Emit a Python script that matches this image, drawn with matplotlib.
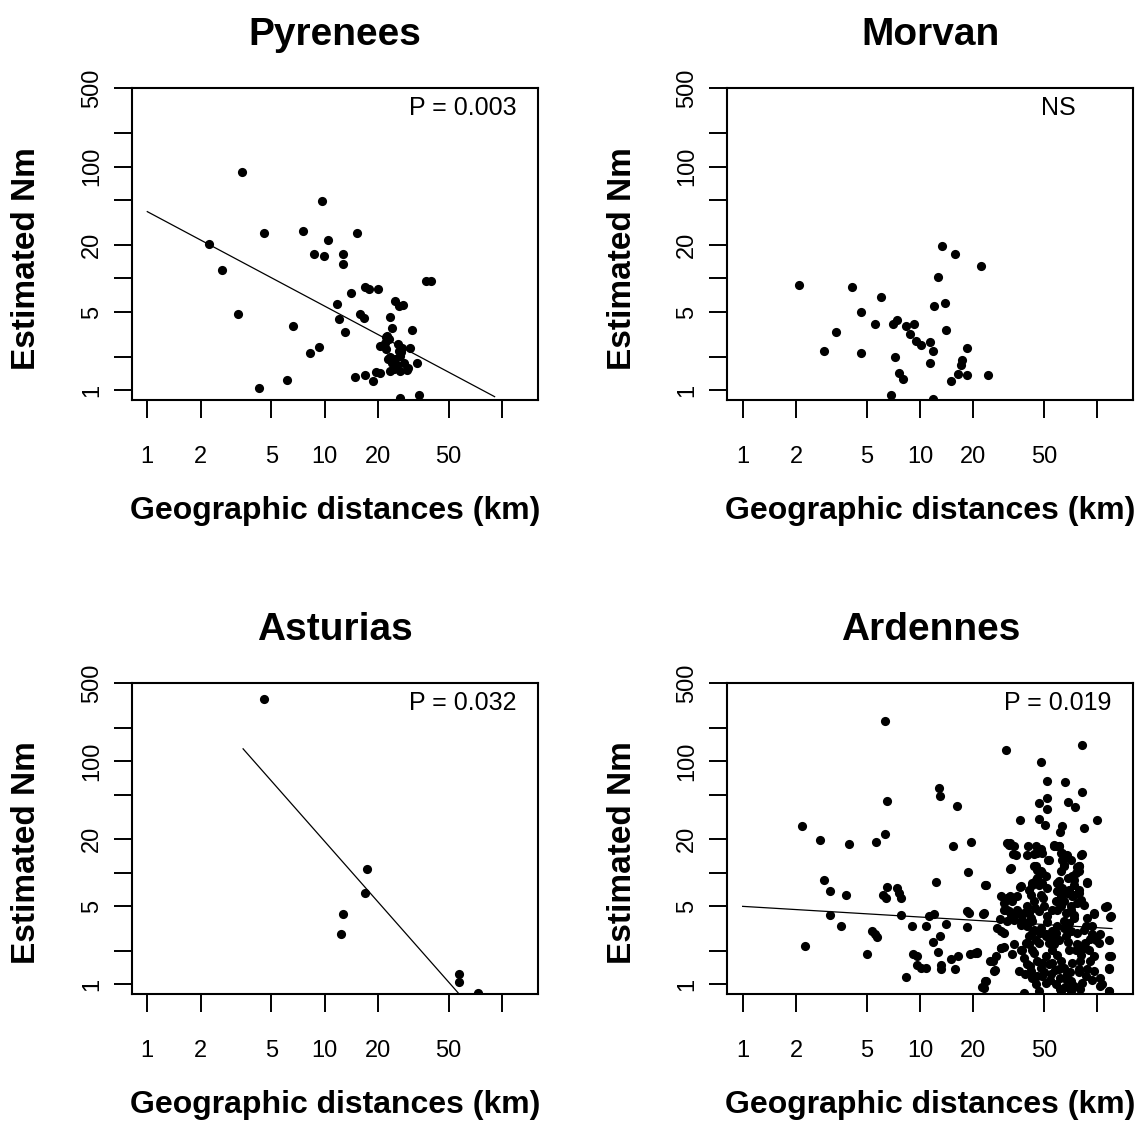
import numpy as np
import matplotlib
matplotlib.use("Agg")
import matplotlib.pyplot as plt
from matplotlib.ticker import FixedLocator, FixedFormatter, NullLocator

plt.rcParams['font.family'] = ['Liberation Sans', 'DejaVu Sans']

# values: geographic distance (km) and estimated Nm
pyr_dist = [3.43, 9.68, 4.58, 7.6, 10.5, 15.2, 2.24, 8.73, 9.98, 12.7, 12.7, 2.63, 37.5, 39.8,
            16.8, 17.8, 19.9, 14.1, 11.7, 25.1, 26.2, 27.7, 3.26, 15.9, 16.6, 12.0, 23.5, 6.65,
            24.0, 13.0, 31.3, 22.3, 20.5, 9.35, 8.25, 22.3, 26.2, 27.3, 30.4, 26.7, 22.7, 24.1,
            25.6, 33.2, 23.3, 26.5, 29.2, 19.4, 20.5, 14.9, 17.0, 18.8, 6.17, 4.26, 26.6, 33.9,
            22.5, 23.0, 22.0, 27.0, 26.0, 23.5, 25.0, 28.0, 29.5, 24.5]
pyr_nm = [90.2, 49.6, 25.3, 26.4, 22.2, 25.3, 20.3, 16.5, 16.0, 16.5, 13.4, 11.9, 9.53, 9.53,
          8.42, 8.08, 8.05, 7.44, 5.97, 6.31, 5.69, 5.78, 4.86, 4.86, 4.47, 4.32, 4.54, 3.77,
          3.64, 3.33, 3.47, 3.0, 2.48, 2.46, 2.16, 2.33, 2.25, 2.41, 2.38, 2.03, 1.92, 1.77,
          1.67, 1.77, 1.49, 1.49, 1.51, 1.47, 1.42, 1.32, 1.37, 1.20, 1.25, 1.06, 0.86, 0.90,
          3.07, 2.86, 2.67, 2.2, 2.6, 2.0, 1.9, 1.75, 1.6, 1.55]

mor_dist = [2.08, 4.15, 6.02, 13.4, 15.7, 22.2, 12.7, 4.64, 12.0, 13.8, 3.36, 5.57, 7.06, 7.47,
            8.32, 9.27, 8.77, 9.56, 10.2, 11.4, 11.8, 14.1, 2.87, 4.64, 7.28, 11.4, 18.4, 17.3,
            17.0, 16.5, 18.4, 24.1, 7.63, 8.07, 14.9, 6.88, 11.8]
mor_nm = [8.78, 8.37, 6.76, 19.6, 16.5, 12.8, 10.35, 5.03, 5.73, 6.01, 3.33, 3.93, 3.95, 4.26,
          3.77, 3.95, 3.17, 2.77, 2.55, 2.71, 2.25, 3.47, 2.25, 2.16, 2.0, 1.76, 2.38, 1.86,
          1.69, 1.41, 1.36, 1.37, 1.44, 1.26, 1.2, 0.90, 0.83]

ast_dist = [4.58, 17.4, 17.0, 12.7, 12.3, 57.5, 57.5, 73.3]
ast_nm = [360, 10.9, 6.58, 4.30, 2.83, 1.23, 1.06, 0.83]

ard_dist = [2.15, 2.25, 2.72, 2.87, 3.1, 3.12, 3.57, 4.0, 3.83, 5.0, 5.68, 6.33, 6.33, 6.56, 6.56,
            6.15, 6.4, 5.35, 5.6, 5.7, 7.4, 7.6, 7.8, 7.8, 8.36, 9.0, 9.1, 9.6, 10.2, 10.8, 10.8,
            11.3, 12.0, 12.3, 11.8, 12.6, 12.8, 13.0, 13.1, 13.1, 14.1, 14.9, 15.8, 16.5, 15.4,
            16.1, 18.5, 18.4, 18.7, 19.5, 19.1, 20.4, 22.8, 23.3, 22.5, 23.3, 25.9, 26.5, 28.8,
            30.6, 36.9, 31.0, 32.3, 33.4, 32.3, 36.9, 31.5, 32.3, 30.6, 32.0, 28.3, 28.6, 29.8,
            33.1, 36.0, 38.6, 41.1, 40.8, 9.6, 12.9, 18.9, 21.1,
            48, 52, 52, 52, 47, 47, 51, 62, 63.5, 66, 68.5, 75, 82, 82, 84, 100, 82, 44, 48, 49,
            52.7, 57, 61, 67.5, 77, 79, 72, 68.5, 87, 79, 110, 118, 116, 117, 116, 107, 95.6,
            95.6, 91, 85, 80, 79, 87, 94, 80, 62,
            31.8, 33.9, 45.0, 48.0, 57.0, 60.8, 63.5, 64.9, 34.7, 40.3, 45.9, 53.4, 64.9, 70.8,
            80.6, 32.5, 45.0, 48.0, 45.9, 43.0, 49.0, 52.3, 48.0, 62.1, 60.8, 63.5, 67.8, 73.9,
            80.6, 84.1, 73.9, 78.9, 87.9, 23.5, 37.0, 31.1, 35.4, 33.2, 42.1, 40.3, 50.1, 58.2,
            59.5, 23.0, 29.8, 32.5, 33.9, 31.1, 114, 119, 95.8, 87.9, 73.9, 69.2, 27.3, 29.8,
            37.0, 40.3, 43.0, 44.0, 48.0, 51.2, 55.8, 59.5, 64.9, 70.8, 77.3, 84.1, 93.7, 103,
            28.5, 26.8, 25.0, 26.2, 23.5, 23.0, 33.9, 21.1,
            37.0, 38.6, 40.3, 42.1, 43.0, 45.0, 47.0, 41.1, 44.0, 45.9, 48.0, 49.0, 51.2,
            57.0, 59.5, 62.1, 64.9, 67.8, 70.8, 73.9, 70.8, 77.3, 80.6, 84.1, 91.6, 95.8, 103,
            103, 116, 116, 119, 116, 54.6, 58.2, 62.1, 53.4,
            44.0, 47.0, 52.3, 55.8, 62.1, 66.3, 70.8, 73.9, 38.6, 35.4, 42.1,
            44.0, 45.9, 49.0, 51.2, 45.0, 43.0, 41.2, 46.9, 59.5, 60.8, 62.1, 64.9, 69.2, 72.3,
            77.3, 78.9, 58.2, 62.1, 63.5, 64.9, 78.9, 75.5, 73.9, 28.5, 29.8, 31.1, 33.9, 36.2,
            37.8, 40.3, 43.0, 45.0, 41.2, 39.5, 37.8, 43.0, 46.9, 51.2, 53.4, 55.8, 51.2, 49.0,
            55.8, 60.8, 66.3, 72.3, 82.3, 86.0, 78.9, 72.3, 69.2, 75.5, 89.8, 97.9, 102, 93.7,
            86.0, 66.3, 60.8, 58.2,
            39.0, 42.0, 46.0, 50.0, 54.0, 57.5, 61.5, 66.0, 70.0, 56.0, 52.0, 47.5, 44.5, 65.0,
            68.0, 71.5, 59.0, 49.5]
ard_nm = [26.5, 2.2, 19.7, 8.6, 6.9, 4.15, 3.36, 18.2, 6.3, 1.86, 18.8, 22.4, 228, 43.8, 7.5,
          6.3, 5.9, 3.0, 2.8, 2.66, 7.3, 6.6, 5.9, 4.15, 1.16, 3.36, 1.86, 1.5, 1.4, 1.4, 3.36,
          4.1, 4.25, 8.2, 2.4, 1.95, 57, 49, 1.5, 1.38, 3.5, 1.7, 1.38, 1.79, 17.4,
          40, 3.3, 4.5, 10.1, 18.8, 1.86, 1.92, 4.25, 7.8, 0.95, 1.07, 1.62, 1.34, 2.1,
          125, 30, 18.3, 18.3, 14.8, 10.9, 7.46, 5.93, 6.2, 4.67, 4.5, 3.83, 3.03, 2.15,
          1.86, 1.32, 0.84, 4.36, 17.4, 1.79, 2.7, 4.36, 1.94,
          99, 67, 46.5, 37, 42.5, 30.2, 26.8, 23, 26, 65, 42.8, 39, 141, 52.5, 25.3, 30, 14.8,
          14.8, 16.3, 15, 12.9, 17.4, 17.2, 14.5, 11.2, 10.3, 9.4, 8.95, 8.3, 7.0, 4.94, 4.0,
          1.79, 1.38, 0.87, 1.0, 4.3, 1.81, 2.56, 2.35, 1.62, 1.29, 1.36, 1.09, 0.9, 0.9,
          17.8, 17.2, 17.2, 16.0, 17.8, 17.2, 15.0, 13.5, 14.5, 14.5, 15.0, 13.1, 11.8, 13.1,
          14.5, 11.0, 11.4, 10.3, 8.96, 7.81, 8.09, 7.30, 6.36, 10.3, 8.37, 7.30, 6.58, 6.36,
          5.74, 5.18, 7.81, 11.4, 8.09, 7.81, 7.55, 5.94, 6.15, 5.55, 6.36, 5.0, 5.0, 5.55,
          4.67, 4.36, 4.67, 4.22, 3.80, 3.68, 5.0, 4.07, 4.36, 3.94, 3.94, 3.55, 3.21, 2.89,
          3.43, 3.55, 3.68, 3.10, 3.21, 2.80, 3.0, 3.32, 3.21, 3.0, 2.89, 3.10, 2.80, 2.80,
          2.13, 1.79, 1.62, 1.32, 1.07, 0.93, 2.28, 1.92,
          2.05, 1.73, 1.51, 1.32, 1.15, 1.0, 0.87, 2.28, 1.92, 1.62, 1.41, 1.19, 1.03,
          2.28, 1.85, 1.62, 1.41, 1.23, 1.07, 0.97, 0.87, 2.28, 1.85, 2.13, 1.62, 1.32, 1.15,
          0.97, 0.87, 2.52, 1.79, 1.41, 1.23, 1.0, 0.87, 1.51,
          5.55, 4.51, 4.07, 4.67, 5.0, 4.36, 5.0, 4.22, 4.36, 4.67, 3.94,
          11.4, 10.6, 9.93, 9.27, 8.66, 8.09, 7.05, 7.81, 8.09, 7.05, 6.15, 5.55, 7.05, 6.15,
          5.36, 6.58, 17.2, 15.0, 13.1, 11.4, 11.4, 9.93, 8.66, 6.15, 5.36, 4.67, 4.07, 4.36,
          3.80, 3.32, 2.89, 2.52, 2.70, 2.35, 2.05, 2.05, 2.35, 2.70, 2.35, 2.05, 1.79, 1.56,
          1.56, 1.36, 1.11, 0.97, 1.03, 1.19, 1.36, 1.56, 2.05, 2.05, 2.05, 2.52, 2.35, 3.32,
          3.32, 2.70, 2.52, 2.89,
          1.25, 1.45, 1.2, 1.3, 1.1, 1.35, 1.15, 0.95, 1.3, 2.6, 3.6, 2.9, 4.8, 3.7,
          2.4, 4.6, 6.8, 5.9]

# fitted lines: log10(Nm) = a + b * log10(dist), drawn from x0 to x1
pyr_fit = (1.597, -0.844, 1.0, 91.0)
ast_fit = (3.085, -1.803, 3.47, 60.0)
ard_fit = (0.699, -0.0955, 1.0, 121.0)

titles = ["Pyrenees", "Morvan", "Asturias", "Ardennes"]
p_texts = ["P = 0.003", "NS", "P = 0.032", "P = 0.019"]

x_ticks = [1, 2, 5, 10, 20, 50, 100]
x_ticklabels = ["1", "2", "5", "10", "20", "50", ""]
y_ticks = [1, 2, 5, 10, 20, 50, 100, 200, 500]
y_ticklabels = ["1", "", "5", "", "20", "", "100", "", "500"]

panels = [
    (pyr_dist, pyr_nm, pyr_fit),
    (mor_dist, mor_nm, None),
    (ast_dist, ast_nm, ast_fit),
    (ard_dist, ard_nm, ard_fit),
]

rects = [[0.1159, 0.6435, 0.3565, 0.2778],
         [0.6386, 0.6435, 0.3565, 0.2778],
         [0.1159, 0.1141, 0.3565, 0.2770],
         [0.6386, 0.1141, 0.3565, 0.2770]]

fig = plt.figure(figsize=(11.39, 11.22), dpi=100)

for i, (dist, nm, fit) in enumerate(panels):
    ax = fig.add_axes(rects[i])
    ax.set_xscale('log')
    ax.set_yscale('log')

    ax.plot(dist, nm, 'o', color='black', ms=6.6, mew=0)

    if fit is not None:
        a, b, x0, x1 = fit
        xs = np.array([x0, x1])
        ax.plot(xs, 10 ** (a + b * np.log10(xs)), color='black', lw=0.9)

    ax.set_xlim(0.82, 160)
    ax.set_ylim(0.82, 500)

    ax.xaxis.set_major_locator(FixedLocator(x_ticks))
    ax.xaxis.set_major_formatter(FixedFormatter(x_ticklabels))
    ax.xaxis.set_minor_locator(NullLocator())
    ax.yaxis.set_major_locator(FixedLocator(y_ticks))
    ax.yaxis.set_major_formatter(FixedFormatter(y_ticklabels))
    ax.yaxis.set_minor_locator(NullLocator())

    ax.tick_params(direction='out', length=13, width=1.4, labelsize=17)
    ax.tick_params(axis='x', pad=20)
    ax.tick_params(axis='y', pad=8, labelrotation=90)
    for lab in ax.get_yticklabels():
        lab.set_va('center')

    for sp in ax.spines.values():
        sp.set_linewidth(1.5)

    ax.set_title(titles[i], fontsize=28, fontweight='bold', pad=31)
    ax.text(60, 330, p_texts[i], ha='center', va='center', fontsize=18)

    ax.text(-0.259, 0.455, 'Estimated Nm', transform=ax.transAxes, rotation=90,
            ha='center', va='center', fontsize=24, fontweight='bold')
    ax.text(0.5, -0.382, 'Geographic distances (km)', transform=ax.transAxes,
            ha='center', va='baseline', fontsize=23, fontweight='bold')

fig.savefig('out.png', dpi=100)
